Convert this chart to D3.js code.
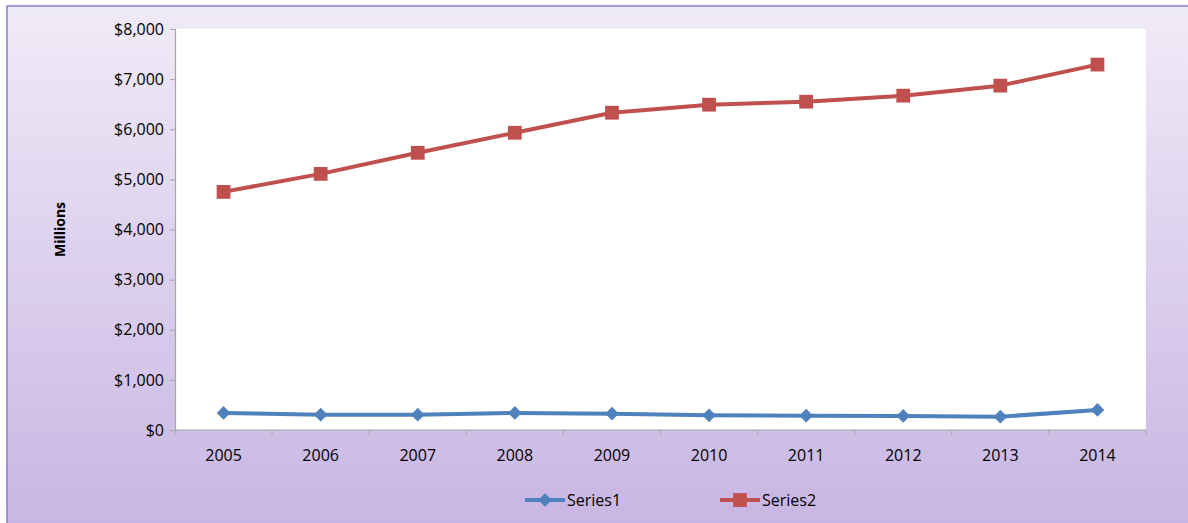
<!DOCTYPE html>
<html>
<head>
<meta charset="utf-8">
<script src="https://cdn.jsdelivr.net/npm/d3@7"></script>
<style>
  html, body { margin: 0; padding: 0; background: #fff; }
  svg { display: block; font-family: "Open Sans", Lato, sans-serif; }
</style>
</head>
<body>
<svg id="chart" width="1188" height="523"></svg>
<script>
// Annual values, in millions of dollars
const years = ["2005", "2006", "2007", "2008", "2009", "2010", "2011", "2012", "2013", "2014"];
const series1 = [340, 305, 305, 340, 325, 293, 285, 280, 265, 400];
const series2 = [4750, 5110, 5530, 5930, 6330, 6490, 6550, 6670, 6870, 7290];
const seriesNames = ["Series1", "Series2"];
const yTicks = [0, 1000, 2000, 3000, 4000, 5000, 6000, 7000, 8000];

const svg = d3.select("#chart");
const W = 1188, H = 523;

// Background panel with a soft lavender gradient
const defs = svg.append("defs");
const grad = defs.append("linearGradient").attr("id", "bg").attr("x1", 0).attr("y1", 0).attr("x2", 0).attr("y2", 1);
grad.append("stop").attr("offset", "0%").attr("stop-color", "#f0ebf8");
grad.append("stop").attr("offset", "100%").attr("stop-color", "#c8b5e3");

svg.append("rect").attr("x", 7).attr("y", 6).attr("width", W).attr("height", H)
  .attr("fill", "url(#bg)").attr("stroke", "#8f7cc2").attr("stroke-width", 1.5);

const plot = { left: 175, right: 1146, top: 29, bottom: 430 };

svg.append("rect").attr("x", plot.left).attr("y", plot.top)
  .attr("width", plot.right - plot.left).attr("height", plot.bottom - plot.top)
  .attr("fill", "#ffffff");

const x = d3.scaleBand().domain(years).range([plot.left, plot.right]);
const y = d3.scaleLinear().domain([0, 8000]).range([plot.bottom, plot.top]);

// Y axis
const yAxis = svg.append("g").attr("transform", `translate(${plot.left},0)`)
  .call(d3.axisLeft(y).tickValues(yTicks).tickSize(5).tickPadding(6)
    .tickFormat(d => "$" + d3.format(",")(d)));
yAxis.select(".domain").attr("stroke", "#a6a6a6").attr("stroke-width", 1.2);
yAxis.selectAll(".tick line").attr("stroke", "#a6a6a6");
yAxis.selectAll("text").attr("font-size", 16).attr("fill", "#000")
  .attr("font-family", "'Open Sans', sans-serif");

// X axis with ticks at category boundaries
const xAxis = svg.append("g").attr("transform", `translate(0,${plot.bottom})`);
xAxis.append("line").attr("x1", plot.left).attr("x2", plot.right)
  .attr("stroke", "#a6a6a6").attr("stroke-width", 1.2);
const bounds = years.map(d => x(d)).concat([x(years[years.length - 1]) + x.bandwidth()]);
xAxis.selectAll("line.tk").data(bounds).join("line").attr("class", "tk")
  .attr("x1", d => d).attr("x2", d => d).attr("y1", 0).attr("y2", 5)
  .attr("stroke", "#a6a6a6");
xAxis.selectAll("text").data(years).join("text")
  .attr("x", d => x(d) + x.bandwidth() / 2).attr("y", 31)
  .attr("text-anchor", "middle").attr("font-size", 16).attr("fill", "#000")
  .text(d => d);

// Axis title
svg.append("text").attr("transform", `translate(65,${(plot.top + plot.bottom) / 2}) rotate(-90)`)
  .attr("text-anchor", "middle").attr("font-size", 14).attr("font-weight", "bold")
  .text("Millions");

const cx = d => x(d) + x.bandwidth() / 2;
const colors = ["#4f81bd", "#c0504d"];
const line = d3.line().x((d, i) => cx(years[i])).y(d => y(d));

const diamond = d3.symbol().type(d3.symbolDiamond2).size(120);
const square = d3.symbol().type(d3.symbolSquare).size(190);

function drawSeries(values, color, sym) {
  svg.append("path").datum(values).attr("d", line)
    .attr("fill", "none").attr("stroke", color).attr("stroke-width", 4)
    .attr("stroke-linejoin", "round");
  svg.append("g").selectAll("path").data(values).join("path")
    .attr("d", sym)
    .attr("transform", (d, i) => `translate(${cx(years[i])},${y(d)})`)
    .attr("fill", color);
}
drawSeries(series1, colors[0], diamond);
drawSeries(series2, colors[1], square);

// Legend
const legendX = [525, 720];
const legend = svg.append("g");
seriesNames.forEach((name, i) => {
  const g = legend.append("g").attr("transform", `translate(${legendX[i]},500)`);
  g.append("line").attr("x1", 0).attr("x2", 40).attr("stroke", colors[i]).attr("stroke-width", 4);
  g.append("path").attr("d", i === 0 ? diamond : square).attr("transform", "translate(20,0)")
    .attr("fill", colors[i]);
  g.append("text").attr("x", 42).attr("y", 6).attr("font-size", 16).text(name);
});
</script>
</body>
</html>
